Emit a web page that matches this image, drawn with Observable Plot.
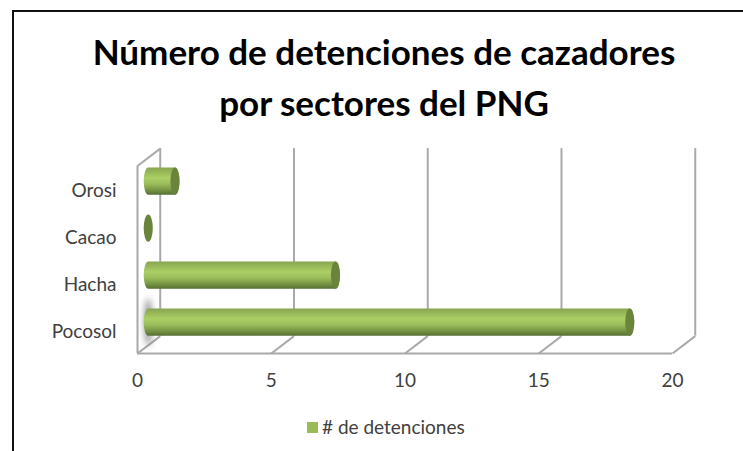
<!DOCTYPE html>
<html>
<head>
<meta charset="utf-8">
<script src="https://cdn.jsdelivr.net/npm/d3@7"></script>
<script src="https://cdn.jsdelivr.net/npm/@observablehq/plot@0.6"></script>
<style>
html,body{margin:0;padding:0;background:#fff;width:743px;height:451px;overflow:hidden}
#frame{position:absolute;left:12px;top:10px;width:731px;height:441px;border-left:2px solid #111;border-top:2px solid #111;box-sizing:border-box}
#title{position:absolute;left:0;top:26px;width:768px;text-align:center;font:bold 35px/51px Lato,sans-serif;color:#000}
#chart{position:absolute;left:0;top:140px}
#legend{position:absolute;left:307px;top:416px;font:19px/22px Lato,sans-serif;color:#404040;display:flex;align-items:center;white-space:nowrap}
#legend i{display:inline-block;width:11px;height:11px;background:#9bbb59;margin-right:4px}
</style>
</head>
<body>
<div id="frame"></div>
<div id="title">Número de detenciones de cazadores<br>por sectores del PNG</div>
<div id="chart"></div>
<div id="legend"><i></i><span># de detenciones</span></div>
<script>
const categories = ["Pocosol", "Hacha", "Cacao", "Orosi"];
const values = [18, 7, 0, 1];
const xTicks = [0, 5, 10, 15, 20];
const seriesName = "# de detenciones";

const rows = categories.map((name, i) => ({name, i, value: values[i]}));

// The fake 3D box, in data units
const floorY = -0.457, topY = 3.532;
const backX = 0.85, backY = 0.37;     // depth of the box
const midX = 0.42, midY = 0.2;        // depth at which the cylinders stand
const halfBar = 0.29, capHalf = 0.17;

const gradient = () => {
  const defs = d3.create("svg:defs");
  const g = defs.append("linearGradient").attr("id", "cyl").attr("x1", 0).attr("x2", 0).attr("y1", 0).attr("y2", 1);
  [[0, "#88a450"], [0.12, "#93b256"], [0.38, "#abcf65"], [0.6, "#9cbd5b"], [0.85, "#718f40"], [1, "#566e33"]]
    .forEach(([o, c]) => g.append("stop").attr("offset", o).attr("stop-color", c));
  return defs.node();
};

const grey = "#a9a9a9";
const plot = Plot.plot({
  width: 743, height: 270,
  marginLeft: 137, marginRight: 71, marginTop: 25.5, marginBottom: 57,
  style: {fontFamily: "Lato, sans-serif", fontSize: "19px", color: "#404040", background: "transparent", overflow: "visible"},
  x: {domain: [0, 20]},
  y: {domain: [floorY, topY]},
  marks: [
    gradient,
    // back gridlines
    Plot.ruleX(xTicks, {x: d => d + backX, y1: floorY + backY, y2: topY + backY, stroke: grey, strokeWidth: 2}),
    // floor
    Plot.ruleY([floorY], {x1: 0, x2: 20, stroke: grey, strokeWidth: 2}),
    Plot.link(xTicks, {x1: d => d, x2: d => d + backX, y1: floorY, y2: floorY + backY, stroke: grey, strokeWidth: 2}),
    // side wall
    Plot.ruleX([0], {y1: floorY, y2: topY, stroke: grey, strokeWidth: 2}),
    Plot.link([0], {x1: d => d, x2: d => d + backX, y1: topY, y2: topY + backY, stroke: grey, strokeWidth: 2}),
    // shadow at the base of the largest bar
    Plot.rect(rows.filter(d => d.value === d3.max(values)), {
      x1: midX - 0.15, x2: midX + 0.15,
      y1: d => d.i + midY - 0.5, y2: d => d.i + midY + 0.5,
      rx: 5, ry: 22, fill: "#777", fillOpacity: 0.75, imageFilter: "blur(3px)"
    }),
    // cylinders
    Plot.rect(rows.filter(d => d.value > 0), {
      x1: midX - capHalf, x2: d => d.value + midX + capHalf,
      y1: d => d.i + midY - halfBar, y2: d => d.i + midY + halfBar,
      rx: 4.5, ry: 13.5, fill: "url(#cyl)"
    }),
    Plot.rect(rows, {
      x1: d => d.value + midX - capHalf, x2: d => d.value + midX + capHalf,
      y1: d => d.i + midY - halfBar, y2: d => d.i + midY + halfBar,
      rx: 4.5, ry: 13.5, fill: "#6b843c"
    }),
    Plot.axisX(xTicks, {y: floorY, tickSize: 0, tickPadding: 20, labelArrow: "none", label: null, anchor: "bottom"}),
    Plot.axisY(categories.map((_, i) => i), {tickFormat: i => categories[i], tickSize: 0, tickPadding: 21, label: null, anchor: "left"})
  ]
});
document.getElementById("chart").append(plot);
</script>
</body>
</html>
